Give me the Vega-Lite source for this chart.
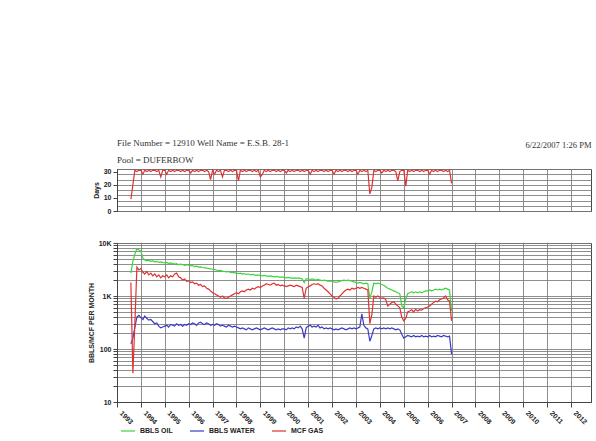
{
  "$schema": "https://vega.github.io/schema/vega-lite/v6.json",
  "background": "white",
  "padding": {"left": 86, "top": 138, "right": 2, "bottom": 0},
  "spacing": 23,
  "config": {
    "view": {"stroke": "#444", "strokeWidth": 1},
    "axis": {"gridColor": "#7a7a7a", "gridOpacity": 0.85, "domainColor": "#444", "tickColor": "#444", "labelFont": "Liberation Sans", "labelFontWeight": "bold", "labelFontSize": 7, "labelColor": "#222", "titleFont": "Liberation Sans", "titleFontSize": 7, "titleFontWeight": "bold", "titleColor": "#222"},
    "legend": {"labelFont": "Liberation Sans", "labelFontWeight": "bold", "labelFontSize": 7, "labelColor": "#222"},
    "title": {"font": "Liberation Serif", "fontSize": 9, "fontWeight": "normal", "color": "#333", "subtitleFont": "Liberation Serif", "subtitleFontSize": 9, "subtitleColor": "#333"},
    "line": {"strokeWidth": 1.2}
  },
  "data": {"values": [
    {"t":"1993-08-01","oil":2700,"water":125,"gas":1800,"days":9},
    {"t":"1993-09-01","oil":4500,"water":160,"gas":35,"days":20},
    {"t":"1993-10-01","oil":6200,"water":260,"gas":300,"days":31},
    {"t":"1993-11-01","oil":7800,"water":400,"gas":3500,"days":30},
    {"t":"1993-12-01","oil":7400,"water":430,"gas":3100,"days":31},
    {"t":"1994-01-01","oil":7000,"water":390,"gas":3300,"days":31},
    {"t":"1994-02-01","oil":5200,"water":360,"gas":2800,"days":28},
    {"t":"1994-03-01","oil":4800,"water":420,"gas":2600,"days":31},
    {"t":"1994-04-01","oil":4600,"water":380,"gas":2900,"days":30},
    {"t":"1994-05-01","oil":4700,"water":350,"gas":2500,"days":31},
    {"t":"1994-06-01","oil":4500,"water":360,"gas":2700,"days":30},
    {"t":"1994-07-01","oil":4600,"water":330,"gas":2400,"days":31},
    {"t":"1994-08-01","oil":4400,"water":300,"gas":2600,"days":31},
    {"t":"1994-09-01","oil":4500,"water":310,"gas":2300,"days":30},
    {"t":"1994-10-01","oil":4300,"water":270,"gas":2500,"days":31},
    {"t":"1994-11-01","oil":4400,"water":250,"gas":2200,"days":26},
    {"t":"1994-12-01","oil":4300,"water":260,"gas":2400,"days":31},
    {"t":"1995-01-01","oil":4200,"water":270,"gas":2300,"days":31},
    {"t":"1995-02-01","oil":4300,"water":280,"gas":2500,"days":28},
    {"t":"1995-03-01","oil":4100,"water":260,"gas":2200,"days":31},
    {"t":"1995-04-01","oil":4200,"water":290,"gas":2400,"days":30},
    {"t":"1995-05-01","oil":4100,"water":280,"gas":2300,"days":31},
    {"t":"1995-06-01","oil":4000,"water":270,"gas":2600,"days":30},
    {"t":"1995-07-01","oil":4100,"water":300,"gas":2700,"days":31},
    {"t":"1995-08-01","oil":3900,"water":280,"gas":2300,"days":31},
    {"t":"1995-09-01","oil":4000,"water":290,"gas":2200,"days":30},
    {"t":"1995-10-01","oil":3900,"water":270,"gas":2000,"days":31},
    {"t":"1995-11-01","oil":3800,"water":290,"gas":2100,"days":30},
    {"t":"1995-12-01","oil":3900,"water":280,"gas":1900,"days":31},
    {"t":"1996-01-01","oil":3800,"water":300,"gas":1950,"days":31},
    {"t":"1996-02-01","oil":3700,"water":290,"gas":1800,"days":29},
    {"t":"1996-03-01","oil":3750,"water":310,"gas":1850,"days":31},
    {"t":"1996-04-01","oil":3600,"water":300,"gas":1700,"days":30},
    {"t":"1996-05-01","oil":3650,"water":280,"gas":1750,"days":31},
    {"t":"1996-06-01","oil":3500,"water":310,"gas":1600,"days":30},
    {"t":"1996-07-01","oil":3550,"water":320,"gas":1650,"days":31},
    {"t":"1996-08-01","oil":3450,"water":300,"gas":1500,"days":31},
    {"t":"1996-09-01","oil":3400,"water":290,"gas":1550,"days":30},
    {"t":"1996-10-01","oil":3350,"water":310,"gas":1400,"days":31},
    {"t":"1996-11-01","oil":3300,"water":300,"gas":1350,"days":30},
    {"t":"1996-12-01","oil":3250,"water":280,"gas":1250,"days":24},
    {"t":"1997-01-01","oil":3200,"water":290,"gas":1150,"days":31},
    {"t":"1997-02-01","oil":3150,"water":280,"gas":1100,"days":28},
    {"t":"1997-03-01","oil":3100,"water":300,"gas":1050,"days":31},
    {"t":"1997-04-01","oil":3000,"water":290,"gas":1000,"days":30},
    {"t":"1997-05-01","oil":3050,"water":270,"gas":950,"days":31},
    {"t":"1997-06-01","oil":2950,"water":280,"gas":1000,"days":26},
    {"t":"1997-07-01","oil":2900,"water":270,"gas":920,"days":31},
    {"t":"1997-08-01","oil":2850,"water":260,"gas":900,"days":31},
    {"t":"1997-09-01","oil":2900,"water":280,"gas":950,"days":30},
    {"t":"1997-10-01","oil":2800,"water":270,"gas":1000,"days":31},
    {"t":"1997-11-01","oil":2750,"water":260,"gas":1050,"days":30},
    {"t":"1997-12-01","oil":2750,"water":270,"gas":1100,"days":31},
    {"t":"1998-01-01","oil":2700,"water":260,"gas":1150,"days":31},
    {"t":"1998-02-01","oil":2650,"water":250,"gas":1100,"days":23},
    {"t":"1998-03-01","oil":2700,"water":240,"gas":1200,"days":31},
    {"t":"1998-04-01","oil":2600,"water":250,"gas":1250,"days":30},
    {"t":"1998-05-01","oil":2650,"water":240,"gas":1200,"days":31},
    {"t":"1998-06-01","oil":2550,"water":230,"gas":1300,"days":30},
    {"t":"1998-07-01","oil":2600,"water":250,"gas":1350,"days":31},
    {"t":"1998-08-01","oil":2500,"water":240,"gas":1300,"days":31},
    {"t":"1998-09-01","oil":2550,"water":230,"gas":1400,"days":30},
    {"t":"1998-10-01","oil":2500,"water":240,"gas":1350,"days":31},
    {"t":"1998-11-01","oil":2450,"water":250,"gas":1450,"days":30},
    {"t":"1998-12-01","oil":2500,"water":240,"gas":1500,"days":31},
    {"t":"1999-01-01","oil":2450,"water":230,"gas":1450,"days":26},
    {"t":"1999-02-01","oil":2400,"water":240,"gas":1550,"days":28},
    {"t":"1999-03-01","oil":2450,"water":250,"gas":1600,"days":31},
    {"t":"1999-04-01","oil":2400,"water":240,"gas":1700,"days":30},
    {"t":"1999-05-01","oil":2350,"water":230,"gas":1650,"days":31},
    {"t":"1999-06-01","oil":2400,"water":240,"gas":1600,"days":30},
    {"t":"1999-07-01","oil":2350,"water":250,"gas":1700,"days":31},
    {"t":"1999-08-01","oil":2300,"water":240,"gas":1750,"days":31},
    {"t":"1999-09-01","oil":2350,"water":230,"gas":1600,"days":30},
    {"t":"1999-10-01","oil":2300,"water":240,"gas":1650,"days":31},
    {"t":"1999-11-01","oil":2250,"water":230,"gas":1550,"days":30},
    {"t":"1999-12-01","oil":2300,"water":240,"gas":1600,"days":31},
    {"t":"2000-01-01","oil":2250,"water":240,"gas":1550,"days":31},
    {"t":"2000-02-01","oil":2200,"water":230,"gas":1500,"days":29},
    {"t":"2000-03-01","oil":2250,"water":250,"gas":1550,"days":31},
    {"t":"2000-04-01","oil":2200,"water":240,"gas":1600,"days":30},
    {"t":"2000-05-01","oil":2150,"water":250,"gas":1550,"days":31},
    {"t":"2000-06-01","oil":2200,"water":240,"gas":1500,"days":30},
    {"t":"2000-07-01","oil":2150,"water":260,"gas":1600,"days":31},
    {"t":"2000-08-01","oil":2200,"water":250,"gas":1550,"days":31},
    {"t":"2000-09-01","oil":2150,"water":270,"gas":1500,"days":30},
    {"t":"2000-10-01","oil":2100,"water":240,"gas":1450,"days":31},
    {"t":"2000-11-01","oil":1800,"water":160,"gas":900,"days":30},
    {"t":"2000-12-01","oil":2100,"water":250,"gas":1400,"days":31},
    {"t":"2001-01-01","oil":2100,"water":270,"gas":1500,"days":31},
    {"t":"2001-02-01","oil":2050,"water":280,"gas":1550,"days":28},
    {"t":"2001-03-01","oil":2100,"water":260,"gas":1650,"days":31},
    {"t":"2001-04-01","oil":2050,"water":270,"gas":1700,"days":30},
    {"t":"2001-05-01","oil":2000,"water":260,"gas":1650,"days":31},
    {"t":"2001-06-01","oil":2050,"water":280,"gas":1700,"days":30},
    {"t":"2001-07-01","oil":2000,"water":250,"gas":1600,"days":31},
    {"t":"2001-08-01","oil":1950,"water":260,"gas":1550,"days":31},
    {"t":"2001-09-01","oil":2000,"water":240,"gas":1400,"days":30},
    {"t":"2001-10-01","oil":1950,"water":250,"gas":1300,"days":31},
    {"t":"2001-11-01","oil":1900,"water":240,"gas":1200,"days":30},
    {"t":"2001-12-01","oil":1900,"water":250,"gas":1100,"days":31},
    {"t":"2002-01-01","oil":1900,"water":240,"gas":1000,"days":31},
    {"t":"2002-02-01","oil":1850,"water":230,"gas":950,"days":28},
    {"t":"2002-03-01","oil":1800,"water":240,"gas":880,"days":31},
    {"t":"2002-04-01","oil":1850,"water":230,"gas":900,"days":30},
    {"t":"2002-05-01","oil":1900,"water":240,"gas":1000,"days":31},
    {"t":"2002-06-01","oil":1950,"water":250,"gas":1100,"days":30},
    {"t":"2002-07-01","oil":2000,"water":240,"gas":1200,"days":31},
    {"t":"2002-08-01","oil":1950,"water":230,"gas":1300,"days":31},
    {"t":"2002-09-01","oil":2000,"water":240,"gas":1350,"days":30},
    {"t":"2002-10-01","oil":1950,"water":250,"gas":1300,"days":31},
    {"t":"2002-11-01","oil":1900,"water":240,"gas":1400,"days":30},
    {"t":"2002-12-01","oil":1850,"water":250,"gas":1350,"days":31},
    {"t":"2003-01-01","oil":1800,"water":240,"gas":1400,"days":31},
    {"t":"2003-02-01","oil":1750,"water":250,"gas":1450,"days":28},
    {"t":"2003-03-01","oil":1800,"water":260,"gas":1400,"days":31},
    {"t":"2003-04-01","oil":1750,"water":460,"gas":1450,"days":30},
    {"t":"2003-05-01","oil":1700,"water":280,"gas":1400,"days":31},
    {"t":"2003-06-01","oil":1750,"water":250,"gas":1350,"days":30},
    {"t":"2003-07-01","oil":1700,"water":240,"gas":1300,"days":31},
    {"t":"2003-08-01","oil":900,"water":140,"gas":300,"days":13},
    {"t":"2003-09-01","oil":1200,"water":180,"gas":450,"days":18},
    {"t":"2003-10-01","oil":1750,"water":240,"gas":1000,"days":31},
    {"t":"2003-11-01","oil":1700,"water":250,"gas":950,"days":30},
    {"t":"2003-12-01","oil":1750,"water":240,"gas":1000,"days":31},
    {"t":"2004-01-01","oil":1700,"water":250,"gas":950,"days":31},
    {"t":"2004-02-01","oil":1650,"water":240,"gas":900,"days":29},
    {"t":"2004-03-01","oil":1600,"water":250,"gas":920,"days":31},
    {"t":"2004-04-01","oil":1500,"water":240,"gas":850,"days":30},
    {"t":"2004-05-01","oil":1400,"water":250,"gas":650,"days":31},
    {"t":"2004-06-01","oil":1350,"water":240,"gas":700,"days":30},
    {"t":"2004-07-01","oil":1300,"water":250,"gas":750,"days":31},
    {"t":"2004-08-01","oil":1250,"water":240,"gas":780,"days":31},
    {"t":"2004-09-01","oil":1200,"water":230,"gas":700,"days":30},
    {"t":"2004-10-01","oil":1150,"water":240,"gas":650,"days":23},
    {"t":"2004-11-01","oil":1100,"water":230,"gas":600,"days":30},
    {"t":"2004-12-01","oil":650,"water":190,"gas":400,"days":31},
    {"t":"2005-01-01","oil":600,"water":160,"gas":340,"days":31},
    {"t":"2005-02-01","oil":900,"water":170,"gas":380,"days":19},
    {"t":"2005-03-01","oil":1100,"water":180,"gas":500,"days":31},
    {"t":"2005-04-01","oil":1150,"water":175,"gas":520,"days":30},
    {"t":"2005-05-01","oil":1200,"water":170,"gas":550,"days":31},
    {"t":"2005-06-01","oil":1150,"water":180,"gas":500,"days":30},
    {"t":"2005-07-01","oil":1200,"water":170,"gas":560,"days":31},
    {"t":"2005-08-01","oil":1150,"water":175,"gas":520,"days":31},
    {"t":"2005-09-01","oil":1200,"water":170,"gas":550,"days":30},
    {"t":"2005-10-01","oil":1150,"water":180,"gas":540,"days":31},
    {"t":"2005-11-01","oil":1200,"water":170,"gas":580,"days":30},
    {"t":"2005-12-01","oil":1250,"water":175,"gas":600,"days":31},
    {"t":"2006-01-01","oil":1250,"water":170,"gas":620,"days":31},
    {"t":"2006-02-01","oil":1300,"water":180,"gas":650,"days":28},
    {"t":"2006-03-01","oil":1250,"water":170,"gas":700,"days":31},
    {"t":"2006-04-01","oil":1300,"water":175,"gas":750,"days":30},
    {"t":"2006-05-01","oil":1350,"water":170,"gas":800,"days":31},
    {"t":"2006-06-01","oil":1300,"water":180,"gas":780,"days":30},
    {"t":"2006-07-01","oil":1350,"water":175,"gas":850,"days":31},
    {"t":"2006-08-01","oil":1300,"water":170,"gas":880,"days":31},
    {"t":"2006-09-01","oil":1350,"water":180,"gas":920,"days":30},
    {"t":"2006-10-01","oil":1400,"water":175,"gas":1000,"days":31},
    {"t":"2006-11-01","oil":1350,"water":170,"gas":850,"days":30},
    {"t":"2006-12-01","oil":1300,"water":175,"gas":800,"days":31},
    {"t":"2007-01-01","oil":520,"water":80,"gas":340,"days":21}
  ]},
  "vconcat": [
    {
      "width": 474,
      "height": 42,
      "title": {"text": "File Number = 12910 Well Name = E.S.B.   28-1", "subtitle": "Pool = DUFERBOW", "anchor": "start", "frame": "group", "offset": -25, "subtitlePadding": 8},
      "resolve": {"axis": {"y": "independent"}},
      "encoding": {
        "x": {"field": "t", "type": "temporal",
          "scale": {"domain": [{"year": 1993, "month": 1, "date": 1}, {"year": 2012, "month": 11, "date": 1}]},
          "axis": {"orient": "top", "labels": false, "ticks": false, "domain": false, "grid": true, "tickCount": {"interval": "year", "step": 1},
                   "title": "6/22/2007 1:26 PM", "titleAnchor": "end", "titleFont": "Liberation Serif", "titleFontWeight": "normal", "titleFontSize": 8.5, "titleColor": "#333", "titleY": -25, "titleBaseline": "middle"}}
      },
      "layer": [
        {
          "mark": {"type": "line", "opacity": 0},
          "encoding": {
            "y": {"field": "days", "type": "quantitative", "scale": {"domain": [0, 32]},
              "axis": {"orient": "left", "values": [0, 4, 8, 12, 16, 20, 24, 28, 32], "labels": false, "ticks": false, "grid": true, "title": "Days", "titlePadding": 18}}
          }
        },
        {
          "mark": {"type": "line", "color": "#dd3333", "strokeWidth": 1.2},
          "encoding": {
            "y": {"field": "days", "type": "quantitative", "scale": {"domain": [0, 32]},
              "axis": {"orient": "left", "values": [0, 10, 20, 30], "grid": false, "title": null, "tickSize": 4}}
          }
        }
      ]
    },
    {
      "width": 474,
      "height": 159,
      "transform": [{"fold": ["oil", "water", "gas"], "as": ["series", "value"]}],
      "mark": {"type": "line", "strokeWidth": 1.2},
      "encoding": {
        "x": {"field": "t", "type": "temporal",
          "scale": {"domain": [{"year": 1993, "month": 1, "date": 1}, {"year": 2012, "month": 11, "date": 1}]},
          "axis": {"grid": true, "format": "%Y", "labelAngle": 45, "labelOffset": 6, "labelPadding": 2, "tickCount": {"interval": "year", "step": 1}, "title": null, "labelFontSize": 7}},
        "y": {"field": "value", "type": "quantitative",
          "scale": {"type": "log", "domain": [10, 10000]},
          "axis": {"values": [10,20,30,40,50,60,70,80,90,100,200,300,400,500,600,700,800,900,1000,2000,3000,4000,5000,6000,7000,8000,9000,10000],
                   "labelExpr": "datum.value == 10000 ? '10K' : datum.value == 1000 ? '1K' : datum.value == 100 ? '100' : datum.value == 10 ? '10' : ''",
                   "title": "BBLS/MCF PER MONTH", "tickSize": 4}},
        "color": {"field": "series", "type": "nominal",
          "scale": {"domain": ["oil", "water", "gas"], "range": ["#3ed43e", "#3b3bc8", "#dd3333"]},
          "legend": {"orient": "bottom", "direction": "horizontal", "title": null, "symbolType": "stroke", "symbolStrokeWidth": 2, "symbolSize": 200, "columnPadding": 14, "offset": -6, "padding": 3,
                     "labelExpr": "datum.label == 'oil' ? 'BBLS OIL' : datum.label == 'water' ? 'BBLS WATER' : 'MCF GAS'"}}
      }
    }
  ]
}
